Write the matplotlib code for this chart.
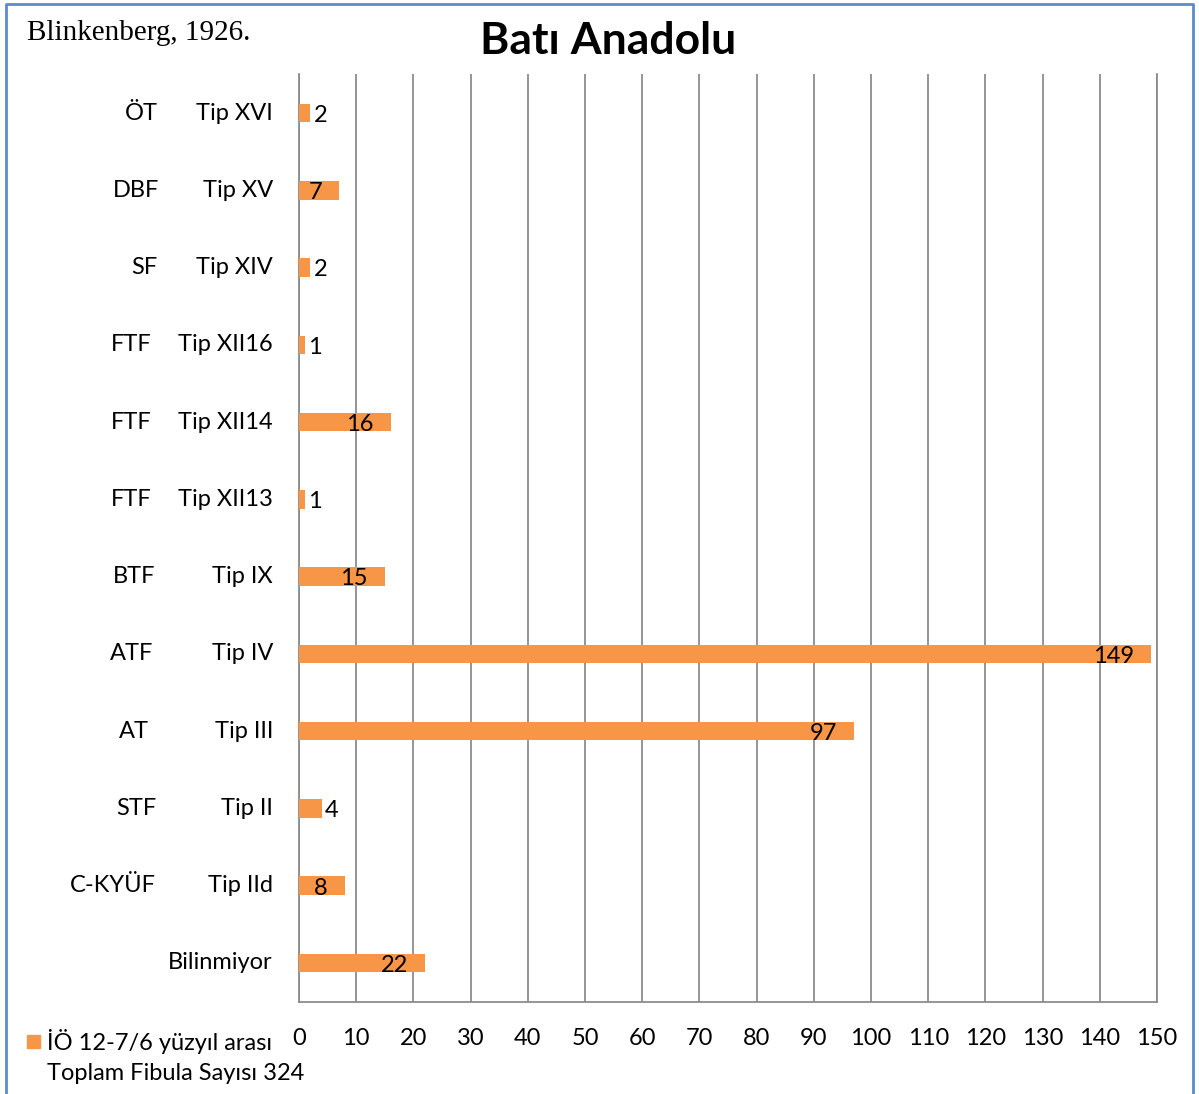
import matplotlib
matplotlib.use("Agg")
import matplotlib.pyplot as plt
from matplotlib.lines import Line2D
from matplotlib.patches import Rectangle

# ---- data (top to bottom as shown) ----
types = ["Tip XVI", "Tip XV", "Tip XIV", "Tip XII16", "Tip XII14", "Tip XII13",
         "Tip IX", "Tip IV", "Tip III", "Tip II", "Tip IId", "Bilinmiyor"]
groups = ["ÖT", "DBF", "SF", "FTF", "FTF", "FTF", "BTF", "ATF", "AT", "STF", "C-KYÜF", ""]
values = [2, 7, 2, 1, 16, 1, 15, 149, 97, 4, 8, 22]
xticks = list(range(0, 151, 10))
title = "Batı Anadolu"
source = "Blinkenberg, 1926."
legend_label = "İÖ 12-7/6 yüzyıl arası"
total_label = "Toplam Fibula Sayısı 324"

W, H = 1199, 1094
fig = plt.figure(figsize=(W / 100, H / 100), dpi=100)
fam = ["Lato", "DejaVu Sans"]
orange = "#F79646"
grid_c = "#8C8C8C"
FS = 17

ax = fig.add_axes([299 / W, 1 - 1001.6 / H, (1157 - 299) / W, (1001.6 - 74.4) / H])
n = len(values)
ypos = list(range(n))
ax.barh(ypos, values, height=0.24, color=orange, zorder=3)
ax.set_xlim(0, 150)
ax.set_ylim(n - 0.5, -0.5)
ax.set_xticks(xticks)
ax.set_xticklabels([str(t) for t in xticks], fontsize=FS, family=fam)
ax.tick_params(axis="x", length=0, pad=19)
ax.set_yticks([])
ax.xaxis.grid(True, color=grid_c, lw=1.3, zorder=0)
ax.spines["top"].set_visible(False)
for s in ["left", "bottom", "right"]:
    ax.spines[s].set_color(grid_c)
    ax.spines[s].set_linewidth(1.3)

# data labels
px = 150 / (1157 - 299)
dy = 0.03
for y, v in zip(ypos, values):
    if v >= 7:
        ax.text(v - 17 * px, y + dy, str(v), ha="right", va="center", fontsize=FS,
                family=fam, zorder=4)
    else:
        ax.text(v + 3 * px, y + dy, str(v), ha="left", va="center", fontsize=FS,
                family=fam, zorder=4)

# category labels (two levels)
inner_x = 273
outer_cx = [141, 136, 144, 131, 131, 131, 134, 132, 134, 136, 113, 0]
for y, t, g, cx in zip(ypos, types, groups, outer_cx):
    yd = ax.transData.transform((0, y))[1]
    fy = yd / H
    fig.text(inner_x / W, fy, t, ha="right", va="center", fontsize=FS, family=fam)
    if g:
        fig.text(cx / W, fy, g, ha="center", va="center", fontsize=FS, family=fam)

# title and source
fig.text(608 / W, 1 - 41 / H, title, ha="center", va="center", fontsize=32,
         fontweight="bold", family=fam)
fig.text(27 / W, 1 - 33 / H, source, ha="left", va="center", fontsize=21,
         family=["Liberation Serif", "DejaVu Serif"])

# legend
fig.patches.append(Rectangle((27 / W, 1 - 1048 / H), 13 / W, 13 / H,
                             transform=fig.transFigure, color=orange))
fig.text(47 / W, 1 - 1041 / H, legend_label, ha="left", va="center", fontsize=FS,
         family=fam)
fig.text(47 / W, 1 - 1074 / H, total_label, ha="left", va="center", fontsize=FS,
         family=fam)

# blue border (left, top, right)
bc = "#5B8BCB"
fig.add_artist(Line2D([6 / W, 6 / W, 1193 / W, 1193 / W],
                      [0, 1 - 4 / H, 1 - 4 / H, 0],
                      transform=fig.transFigure, color=bc, lw=2))

fig.savefig("out.png", dpi=100)
